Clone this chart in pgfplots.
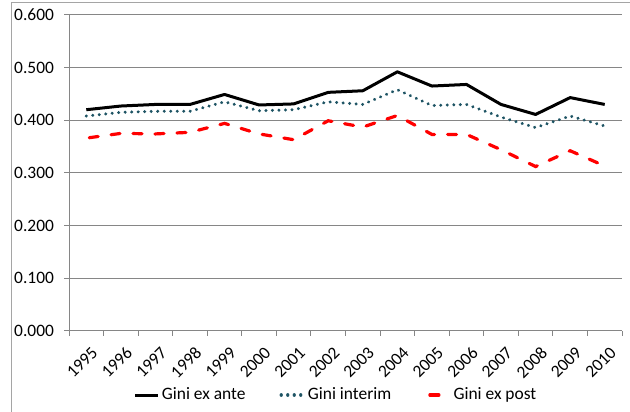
\documentclass[border=0pt]{standalone}
\usepackage{pgfplots}
\pgfplotsset{compat=1.18}
\usepackage{fontspec}
\setmainfont{Carlito}
\definecolor{gridgray}{RGB}{134,134,134}
\definecolor{framegray}{RGB}{165,165,165}
\definecolor{tealdot}{RGB}{30,84,100}
\newcommand{\chartfont}{\fontsize{17.5}{20}\selectfont}
\begin{document}
\chartfont
\begin{tikzpicture}[x=1bp,y=1bp]
\useasboundingbox (0,0) rectangle (630,411);
\draw[framegray, line width=1bp] (11,-5) -- (11,408.3) -- (640,408.3);
\begin{axis}[
  at={(69bp,80.3bp)}, anchor=south west,
  width=553bp, height=315.7bp, scale only axis,
  xmin=-0.5, xmax=15.5, ymin=0, ymax=0.6,
  xtick={0,...,15},
  xticklabels={1995,1996,1997,1998,1999,2000,2001,2002,2003,2004,2005,2006,2007,2008,2009,2010},
  major x tick style={draw=none},
  minor xtick={-0.5,0.5,...,15.5},
  minor tick length=5bp,
  major tick length=5bp,
  tick align=outside,
  ytick={0,0.1,0.2,0.3,0.4,0.5,0.6},
  axis lines*=left,
  axis line style={gridgray, line width=1bp},
  every tick/.style={gridgray, line width=1bp},
  ymajorgrids,
  grid style={gridgray, line width=1bp},
  /pgf/number format/fixed, /pgf/number format/fixed zerofill,
  /pgf/number format/precision=3, /pgf/number format/assume math mode=true,
  yticklabel style={font=\chartfont, xshift=-4bp},
  xticklabel style={rotate=45, anchor=east, font=\chartfont, xshift=2bp, yshift=-16bp},
  legend columns=3,
  legend style={at={(0.483,-0.2037)}, anchor=center, draw=none, fill=none,
    font=\chartfont,
    /tikz/every even column/.append style={column sep=32bp},
    inner sep=0pt,
    nodes={inner sep=2bp}},
  legend image code/.code={\draw[#1] (0bp,0bp) -- (23bp,0bp);},
]
\addplot[black, line width=3bp, line join=round] coordinates {
(0,0.420) (1,0.427) (2,0.430) (3,0.430) (4,0.449) (5,0.429) (6,0.431) (7,0.453)
(8,0.456) (9,0.492) (10,0.465) (11,0.468) (12,0.430) (13,0.411) (14,0.443) (15,0.430)};
\addlegendentry{Gini ex ante}
\addplot[tealdot, line width=3.3bp, line cap=round, dash pattern=on 0.01bp off 6.5bp] coordinates {
(0,0.408) (1,0.415) (2,0.417) (3,0.417) (4,0.435) (5,0.418) (6,0.420) (7,0.435)
(8,0.430) (9,0.458) (10,0.428) (11,0.430) (12,0.406) (13,0.386) (14,0.408) (15,0.389)};
\addlegendentry{Gini interim}
\addplot[red, line width=3.2bp, line cap=round, dash pattern=on 9bp off 13bp, dash phase=-3bp] coordinates {
(0,0.366) (1,0.375) (2,0.374) (3,0.377) (4,0.394) (5,0.374) (6,0.363) (7,0.399)
(8,0.387) (9,0.409) (10,0.373) (11,0.373) (12,0.344) (13,0.312) (14,0.342) (15,0.313)};
\addlegendentry{Gini ex post}
\end{axis}
\end{tikzpicture}
\end{document}
